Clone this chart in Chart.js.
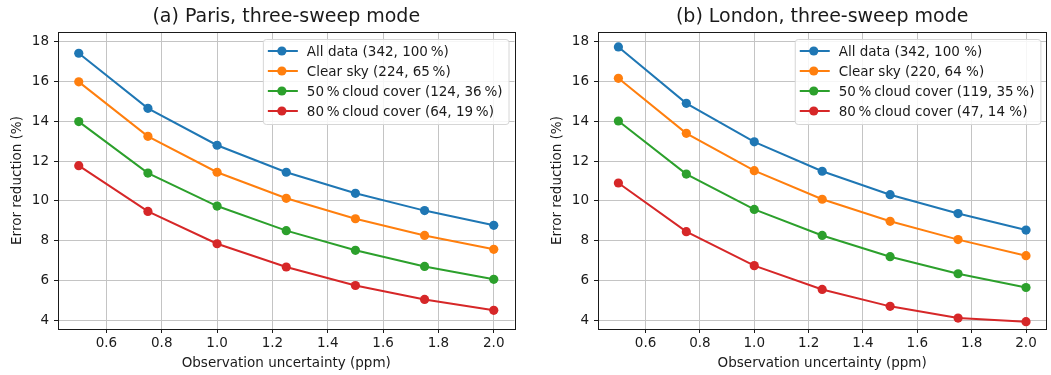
<!DOCTYPE html>
<html>
<head>
<meta charset="utf-8">
<script src="https://cdn.jsdelivr.net/npm/chart.js@4.4.0/dist/chart.umd.min.js"></script>
<style>
    body { margin: 0; background: #fff; }
    #wrap { position: relative; width: 1051px; height: 375px; }
    canvas { position: absolute; top: 0; }
    #paris { left: 0; }
    #london { left: 526px; }
</style>
</head>
<body>
<div id="wrap">
    <canvas id="paris" width="525" height="375"></canvas>
    <canvas id="london" width="525" height="375"></canvas>
</div>
<script>
// Observation uncertainty (ppm)
const xValues = [0.5, 0.75, 1.0, 1.25, 1.5, 1.75, 2.0];
const xTicks = [0.6, 0.8, 1.0, 1.2, 1.4, 1.6, 1.8, 2.0];
const yTicks = [4, 6, 8, 10, 12, 14, 16, 18];

// Error reduction (%) - Paris
const parisAll = [17.43, 14.66, 12.80, 11.44, 10.38, 9.51, 8.77];
const parisClear = [15.99, 13.25, 11.44, 10.13, 9.10, 8.26, 7.56];
const paris50 = [13.99, 11.40, 9.74, 8.50, 7.51, 6.70, 6.05];
const paris80 = [11.77, 9.47, 7.84, 6.67, 5.74, 5.04, 4.49];
const parisLabels = [
    'All data (342, 100\u2009%)',
    'Clear sky (224, 65\u2009%)',
    '50\u2009%\u2009cloud cover (124, 36\u2009%)',
    '80\u2009%\u2009cloud cover (64, 19\u2009%)'
];

// Error reduction (%) - London
const londonAll = [17.75, 14.91, 12.97, 11.49, 10.31, 9.36, 8.53];
const londonClear = [16.17, 13.40, 11.52, 10.08, 8.97, 8.05, 7.24];
const london50 = [14.02, 11.35, 9.57, 8.26, 7.19, 6.33, 5.64];
const london80 = [10.90, 8.45, 6.74, 5.54, 4.69, 4.10, 3.92];
const londonLabels = [
    'All data (342, 100 %)',
    'Clear sky (220, 64 %)',
    '50\u2009%\u2009cloud cover (119, 35\u2009%)',
    '80\u2009%\u2009cloud cover (47, 14 %)'
];

const colors = ['#1f77b4', '#ff7f0e', '#2ca02c', '#d62728'];
const FONT = '"DejaVu Sans", sans-serif';
const TEXT = '#1a1a1a';
const SIZE = 13.5;

// Title centred over the plot area plus a box round it
const framePlugin = {
    id: 'frame',
    afterDraw(chart, args, opts) {
        const { ctx, chartArea: a } = chart;
        ctx.save();
        ctx.strokeStyle = '#1a1a1a';
        ctx.lineWidth = 1;
        ctx.strokeRect(Math.round(a.left) + 0.5, Math.round(a.top) + 0.5,
            Math.round(a.right - a.left), Math.round(a.bottom - a.top));
        ctx.fillStyle = TEXT;
        ctx.font = '19px ' + FONT;
        ctx.textAlign = 'center';
        ctx.textBaseline = 'middle';
        ctx.fillText(opts.text, (a.left + a.right) / 2, 17);
        ctx.restore();
    }
};

// Legend box in the upper right corner of the axes
const boxLegend = {
    id: 'boxLegend',
    afterDatasetsDraw(chart) {
        const { ctx, chartArea: a } = chart;
        const sets = chart.data.datasets;
        ctx.save();
        ctx.font = SIZE + 'px ' + FONT;
        let maxW = 0;
        sets.forEach(ds => { maxW = Math.max(maxW, ctx.measureText(ds.label).width); });
        const w = 44 + maxW + 6;
        const h = 85;
        const x0 = a.right - 6 - w;
        const y0 = a.top + 7;
        ctx.beginPath();
        ctx.roundRect(x0 + 0.5, y0 + 0.5, w, h, 3);
        ctx.fillStyle = 'rgba(255,255,255,0.85)';
        ctx.fill();
        ctx.strokeStyle = '#d6d6d6';
        ctx.lineWidth = 1;
        ctx.stroke();
        sets.forEach((ds, i) => {
            const y = y0 + 12 + i * 20;
            ctx.strokeStyle = ds.borderColor;
            ctx.lineWidth = 2;
            ctx.beginPath();
            ctx.moveTo(x0 + 5, y);
            ctx.lineTo(x0 + 35, y);
            ctx.stroke();
            ctx.fillStyle = ds.borderColor;
            ctx.beginPath();
            ctx.arc(x0 + 19, y, 4.6, 0, Math.PI * 2);
            ctx.fill();
            ctx.fillStyle = TEXT;
            ctx.textAlign = 'left';
            ctx.textBaseline = 'middle';
            ctx.fillText(ds.label, x0 + 44, y + 1);
        });
        ctx.restore();
    }
};

function makeChart(id, title, series, labels, yAxisWidth, yTitlePad, rightPad) {
    const ctx = document.getElementById(id).getContext('2d');
    return new Chart(ctx, {
        type: 'line',
        data: {
            datasets: series.map((vals, i) => ({
                label: labels[i],
                data: vals.map((v, j) => ({ x: xValues[j], y: v })),
                borderColor: colors[i],
                backgroundColor: colors[i],
                borderWidth: 2,
                pointRadius: 4.6,
                pointBorderWidth: 0,
                pointHoverRadius: 4.6,
                tension: 0
            }))
        },
        options: {
            responsive: false,
            devicePixelRatio: 1,
            animation: false,
            layout: { padding: { top: 32, right: rightPad, left: 0, bottom: 0 } },
            plugins: {
                legend: { display: false },
                tooltip: { enabled: false },
                frame: { text: title }
            },
            scales: {
                x: {
                    type: 'linear',
                    min: 0.425,
                    max: 2.075,
                    afterBuildTicks: s => { s.ticks = xTicks.map(v => ({ value: v })); },
                    afterFit: s => { s.height = 46; },
                    grid: { color: '#c4c4c4', lineWidth: 1, tickColor: '#1a1a1a', tickLength: 4 },
                    border: { display: false },
                    ticks: {
                        color: TEXT,
                        font: { family: FONT, size: SIZE },
                        padding: 2,
                        maxRotation: 0,
                        callback: v => v.toFixed(1)
                    },
                    title: {
                        display: true,
                        text: 'Observation uncertainty (ppm)',
                        color: TEXT,
                        font: { family: FONT, size: SIZE },
                        padding: { top: 0, bottom: 3 }
                    }
                },
                y: {
                    min: 3.55,
                    max: 18.5,
                    afterBuildTicks: s => { s.ticks = yTicks.map(v => ({ value: v })); },
                    afterFit: s => { s.width = yAxisWidth; },
                    grid: { color: '#c4c4c4', lineWidth: 1, tickColor: '#1a1a1a', tickLength: 4 },
                    border: { display: false },
                    ticks: {
                        color: TEXT,
                        font: { family: FONT, size: SIZE },
                        padding: 5,
                        callback: v => String(v)
                    },
                    title: {
                        display: true,
                        text: 'Error reduction (%)',
                        color: TEXT,
                        font: { family: FONT, size: SIZE },
                        padding: { top: yTitlePad, bottom: 0 }
                    }
                }
            }
        },
        plugins: [framePlugin, boxLegend]
    });
}

makeChart('paris', '(a) Paris, three-sweep mode',
    [parisAll, parisClear, paris50, paris80], parisLabels, 58, 9.5, 10.5);
makeChart('london', '(b) London, three-sweep mode',
    [londonAll, londonClear, london50, london80], londonLabels, 72, 23.5, 4);
</script>
</body>
</html>
